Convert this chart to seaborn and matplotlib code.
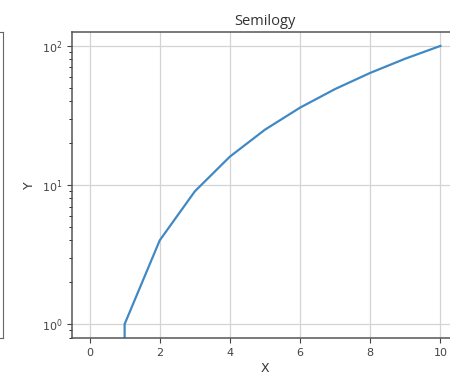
import numpy as np
import pandas as pd
import matplotlib
matplotlib.use("Agg")
import matplotlib.pyplot as plt
import seaborn as sns

x_values = [0, 1, 2, 3, 4, 5, 6, 7, 8, 9, 10]
y_values = [0, 1, 4, 9, 16, 25, 36, 49, 64, 81, 100]
x_ticks = [0, 2, 4, 6, 8, 10]

df = pd.DataFrame({"X": x_values, "Y": y_values})

W, H = 450, 383
fig = plt.figure(figsize=(W / 100, H / 100), dpi=100)

# partially visible neighbouring panel on the left
ax0 = fig.add_axes([-0.5, 1 - 338 / H, 0.5 + 2.5 / W, (338 - 32) / H])
ax0.set_xticks([])
ax0.set_yticks([])
for s in ax0.spines.values():
    s.set_color("#666666")

ax = fig.add_axes([72 / W, 1 - 338 / H, (458 - 72) / W, (338 - 32) / H])
sns.lineplot(data=df, x="X", y="Y", ax=ax, color="#4189c4", linewidth=1.6,
             estimator=None, sort=True)
ax.set_yscale("log")
ax.set_xticks(x_ticks)
ax.grid(True, color="#d4d4d4", linewidth=0.9)
ax.set_axisbelow(True)
ax.set_title("Semilogy", fontsize=10.5, color="#333333", pad=5,
             family=["Open Sans", "DejaVu Sans"])
ax.set_xlabel("X", fontsize=9, color="#333333", labelpad=3)
ax.set_ylabel("Y", fontsize=9, color="#333333", labelpad=4)
ax.tick_params(labelsize=8, colors="#444444")
for s in ax.spines.values():
    s.set_color("#555555")
    s.set_linewidth(1.1)

fig.savefig("out.png", dpi=100)
